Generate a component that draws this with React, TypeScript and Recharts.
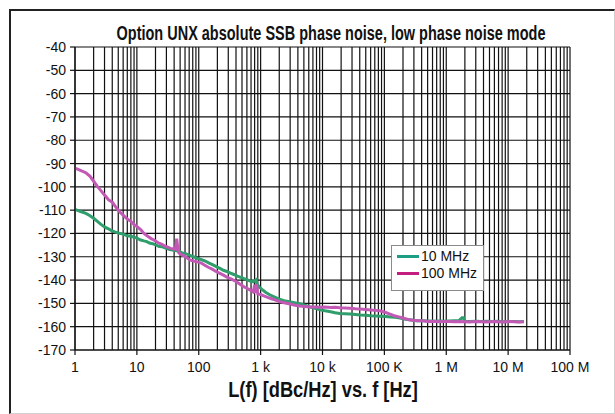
import { LineChart, Line, XAxis, YAxis, CartesianGrid, Legend } from "recharts";

// 10 MHz carrier (green trace)
const freq10 = [
  1, 1.15, 1.3, 1.5, 1.75, 2, 2.3, 2.6, 3, 3.4, 3.9, 4.5, 5.2, 6, 7, 8, 9, 10,
  11.5, 13, 14.5, 16, 18, 20, 23, 26, 30, 34, 38, 42, 46, 50, 56, 63, 70, 80, 92,
  105, 120, 135, 150, 170, 195, 220, 250, 285, 325, 370, 420, 480, 540, 610, 680,
  760, 830, 850, 870, 950, 1050, 1200, 1400, 1650, 2000, 2400, 2900, 3500, 4300,
  5200, 6300, 7600, 9200, 11000, 13500, 16000, 19000, 23000, 28000, 34000, 41000,
  50000, 60000, 72000, 87000, 105000, 126000, 150000, 180000, 220000, 270000,
  330000, 400000, 500000, 620000, 760000, 920000, 1100000, 1350000, 1600000,
  1800000, 1900000, 2000000, 2400000, 3000000, 3700000, 4500000, 5500000, 6800000,
  8300000, 10000000, 12500000, 15000000, 18000000,
];
const level10 = [
  -109.7, -110.3, -110.8, -111.4, -112.4, -113.5, -114.8, -116, -117.2, -117.9,
  -118.8, -119.4, -119.9, -120.3, -121, -121.2, -121.6, -122, -122.8, -123.2,
  -123.5, -124.1, -124.4, -124.9, -125.6, -125.7, -126.4, -126.9, -127.1, -127.3,
  -127.6, -127.9, -128.5, -128.8, -129.3, -129.8, -130.6, -131, -131.6, -132.2,
  -132.8, -133.5, -134.3, -135, -135.8, -136.3, -137, -137.6, -138.3, -138.8,
  -139.4, -139.9, -140.4, -140.8, -140, -139.8, -141.5, -143, -144, -145.2, -146.3,
  -147.2, -148.2, -148.8, -149.3, -149.7, -150.1, -150.8, -151.5, -152.1, -152.8,
  -153.2, -153.6, -154, -154.3, -154.4, -154.6, -154.8, -155, -155.1, -155.3,
  -155.4, -155.5, -155.6, -155.8, -156, -156.3, -156.8, -157.1, -157.4, -157.5,
  -157.6, -157.7, -157.6, -157.7, -157.6, -157.5, -157.4, -156.2, -156.2, -157.7,
  -157.8, -157.7, -157.8, -157.7, -157.8, -157.7, -157.9, -157.8, -157.8, -157.9,
  -157.8,
];

// 100 MHz carrier (magenta trace)
const freq100 = [
  1, 1.15, 1.3, 1.5, 1.75, 2, 2.3, 2.6, 3, 3.5, 4, 4.6, 5.3, 6, 7, 8, 9, 10, 11.5,
  13, 15, 17, 19.5, 22, 25, 28, 31, 35, 39, 42, 44, 46, 48, 52, 58, 65, 72, 82, 95,
  110, 125, 145, 165, 190, 220, 255, 295, 340, 400, 460, 530, 600, 680, 760, 800,
  820, 860, 900, 1000, 1150, 1300, 1500, 1750, 2050, 2500, 3000, 3600, 4300, 5200,
  6300, 7600, 9200, 11000, 13500, 16000, 19000, 23000, 28000, 34000, 41000, 50000,
  60000, 72000, 84000, 100000, 120000, 140000, 165000, 200000, 240000, 290000,
  350000, 420000, 500000, 620000, 760000, 920000, 1100000, 1350000, 1600000,
  2000000, 2400000, 3000000, 3700000, 4500000, 5500000, 6800000, 8300000, 10000000,
  12500000, 15000000, 18000000,
];
const level100 = [
  -92, -92.6, -93.2, -94, -95.5, -97.6, -99.8, -101.5, -103.5, -105.6, -106.6,
  -108.8, -110.8, -112.1, -113.8, -114.8, -116.2, -117, -118.3, -120, -121.2,
  -122.2, -123, -124, -124.6, -125.3, -125.8, -126.4, -126.6, -126.8, -122.2,
  -126.6, -128.4, -129, -129.6, -130.5, -131.3, -131.8, -132.2, -132.7, -133.6,
  -134.6, -135.3, -136.3, -137.1, -138, -139, -139.6, -140.6, -141.7, -142.8,
  -143.5, -144.3, -145.1, -142, -145.5, -141.8, -146, -146.2, -146.9, -147.4, -148,
  -148.6, -149.3, -149.8, -150.3, -150.8, -151.1, -151.3, -151.5, -151.6, -151.7,
  -151.6, -151.8, -151.7, -151.9, -152, -152.1, -152.3, -152.4, -152.6, -152.8,
  -153, -153.2, -153.7, -154.5, -155.2, -155.7, -156.3, -156.9, -157.2, -157.4,
  -157.5, -157.8, -157.7, -157.9, -157.8, -157.8, -157.9, -157.8, -157.9, -158,
  -157.8, -157.9, -158, -157.8, -157.9, -158, -157.8, -157.9, -158, -157.9,
];

const seriesNames = ["10 MHz", "100 MHz"];
const decadeTicks = [1, 10, 100, 1e3, 1e4, 1e5, 1e6, 1e7, 1e8];
const decadeLabels = ["1", "10", "100", "1 k", "10 k", "100 K", "1 M", "10 M", "100 M"];
const yTicks = [-40, -50, -60, -70, -80, -90, -100, -110, -120, -130, -140, -150, -160, -170];

const data10 = freq10.map((f, i) => ({ f, v: level10[i] }));
const data100 = freq100.map((f, i) => ({ f, v: level100[i] }));

// every 1..9 multiple of each decade gets a grid line
const gridTicks = decadeTicks
  .slice(0, -1)
  .flatMap((d) => [1, 2, 3, 4, 5, 6, 7, 8, 9].map((m) => d * m))
  .concat(decadeTicks[decadeTicks.length - 1]);

const FONT = "'Liberation Sans', Arial, Helvetica, sans-serif";
const GREEN = "#2f9d6c";
const MAGENTA = "#c25ab5";
const legendColors = ["#1d9c86", "#c41f7e"];

function FreqTick({ x, y, payload }: any) {
  const i = decadeTicks.indexOf(payload.value);
  if (i < 0) return <g />;
  return (
    <g>
      <line x1={x} x2={x} y1={y - 12} y2={y - 7} stroke="#111" strokeWidth={1.2} />
      <text x={x} y={y} dy="0.71em" textAnchor="middle" fontSize={14} fontFamily={FONT} fill="#111">
        {decadeLabels[i]}
      </text>
    </g>
  );
}

function LegendBox() {
  return (
    <div
      style={{
        border: "1px solid #8a8a8a",
        background: "#fff",
        width: 91,
        height: 42,
        boxSizing: "content-box",
        paddingTop: 2,
      }}
    >
      {seriesNames.map((name, i) => (
        <div key={name} style={{ display: "flex", alignItems: "center", height: 17, paddingLeft: 5 }}>
          <div style={{ width: 22, height: 3, background: legendColors[i], marginRight: 2 }} />
          <span style={{ fontFamily: FONT, fontSize: 14, color: "#111", lineHeight: "17px" }}>{name}</span>
        </div>
      ))}
    </div>
  );
}

export default function App() {
  return (
    <div style={{ position: "absolute", left: 0, top: 0, width: 615, height: 414, background: "#fff" }}>
      <div
        style={{
          position: "absolute",
          left: 9,
          top: 9,
          width: 603,
          height: 402,
          borderLeft: "2px solid #222",
          borderTop: "2px solid #222",
          borderRight: "1px solid #d0d0d0",
          borderBottom: "1px solid #d0d0d0",
        }}
      />
      <div style={{ position: "absolute", left: 0, top: 0 }}>
        <LineChart width={615} height={414} margin={{ top: 47, right: 45, bottom: 0, left: 0 }}>
          <CartesianGrid stroke="#111" strokeWidth={1.2} />
          <XAxis
            dataKey="f"
            type="number"
            scale="log"
            domain={[1, 1e8]}
            allowDataOverflow
            ticks={gridTicks}
            interval={0}
            height={64}
            tickSize={4}
            tickMargin={8}
            tickLine={false}
            tick={<FreqTick />}
            axisLine={{ stroke: "#111", strokeWidth: 1.2 }}
          />
          <YAxis
            type="number"
            domain={[-170, -40]}
            ticks={yTicks}
            interval={0}
            width={75}
            tickSize={5}
            tickMargin={4}
            tickLine={{ stroke: "#111", strokeWidth: 1.2 }}
            axisLine={{ stroke: "#111", strokeWidth: 1.2 }}
            tick={{ fill: "#111", fontSize: 14, fontFamily: FONT }}
          />
          <Line
            data={data10}
            dataKey="v"
            name={seriesNames[0]}
            stroke={GREEN}
            strokeWidth={3}
            dot={false}
            isAnimationActive={false}
          />
          <Line
            data={data100}
            dataKey="v"
            name={seriesNames[1]}
            stroke={MAGENTA}
            strokeWidth={3}
            dot={false}
            isAnimationActive={false}
          />
          <Legend
            layout="vertical"
            align="center"
            verticalAlign="middle"
            content={() => <LegendBox />}
            wrapperStyle={{ left: 391, top: 245, width: 93, height: 45 }}
          />
        </LineChart>
      </div>
      <svg width={615} height={414} style={{ position: "absolute", left: 0, top: 0, pointerEvents: "none" }}>
        {/* condensed bold look: Arial-metric bold squeezed horizontally */}
        <text
          transform="translate(331,40) scale(0.69,1)"
          x={0}
          y={0}
          textAnchor="middle"
          fontSize={21}
          fontWeight="bold"
          fontFamily={FONT}
          fill="#111"
        >
          Option UNX absolute SSB phase noise, low phase noise mode
        </text>
        <text
          transform="translate(323,397) scale(0.83,1)"
          x={0}
          y={0}
          textAnchor="middle"
          fontSize={22}
          fontWeight="bold"
          fontFamily={FONT}
          fill="#111"
        >
          L(f) [dBc/Hz] vs. f [Hz]
        </text>
      </svg>
    </div>
  );
}
